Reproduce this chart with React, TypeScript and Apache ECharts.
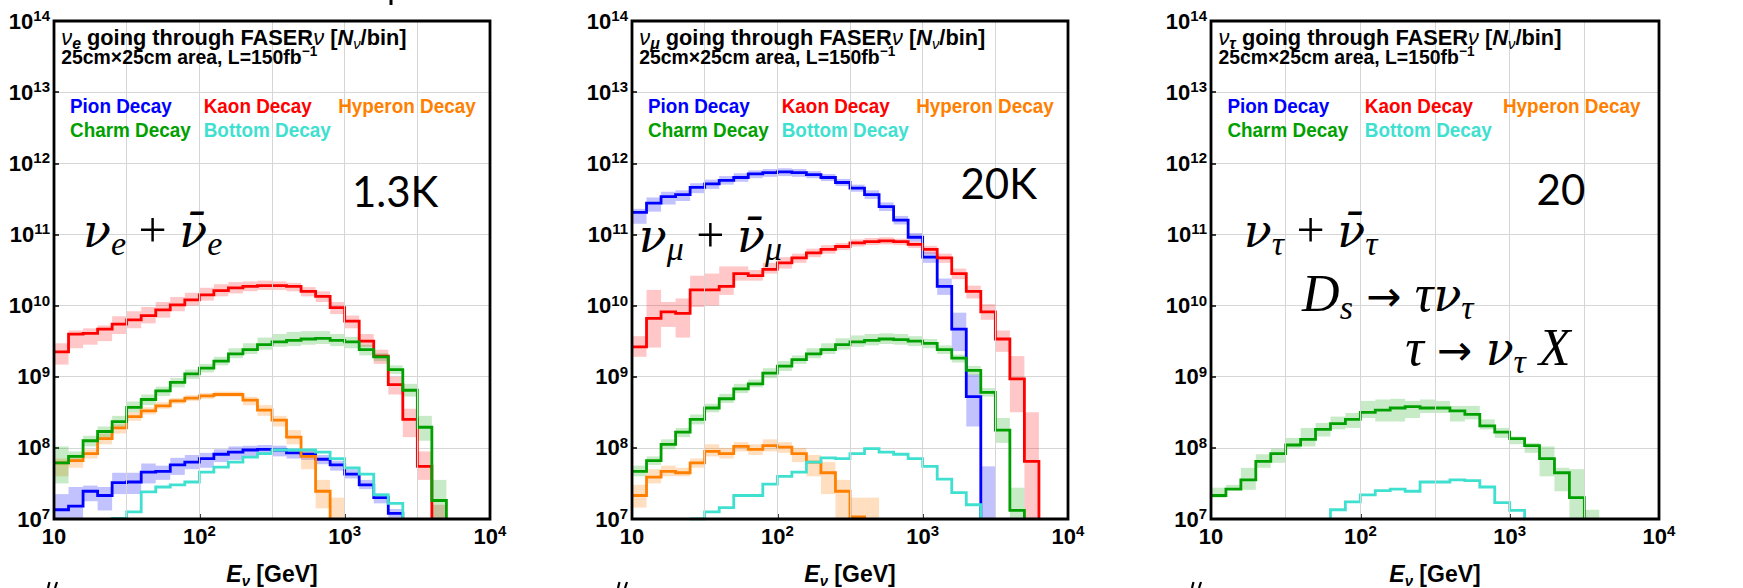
import React, { useEffect, useRef } from "react";
import * as echarts from "echarts";

// ---------------- axis / binning ----------------
const X_MIN = 10;
const X_MAX = 1e4;
const Y_MIN = 1e7;
const Y_MAX = 1e14;
const BINS_PER_DECADE = 10;
const N_BINS = 30;
const binEdges: number[] = Array.from({ length: N_BINS + 1 }, (_, i) => Math.pow(10, 1 + i / BINS_PER_DECADE));
const halfDecadeGrid = [1.5, 2, 2.5, 3, 3.5].map((e) => Math.pow(10, e));

// ---------------- data (log10 of N per bin, 30 log bins 10 GeV .. 10 TeV) ----------------
const N = null;
// Panel 1: nu_e
const pion1 = [7.13, 7.18, 7.39, 7.33, 7.51, 7.52, 7.66, 7.67, 7.76, 7.8, 7.85, 7.91, 7.94, 7.97, 7.98, 7.97, 7.93, 7.91, 7.84, 7.76, 7.63, 7.48, 7.3, 7.08, N, N, N, N, N, N];
const pion1Lo = [7.0, 7.0, 7.25, 7.12, 7.35, 7.35, 7.5, 7.55, 7.62, 7.7, 7.72, 7.8, 7.83, 7.88, 7.9, 7.88, 7.85, 7.83, 7.77, 7.68, 7.57, 7.42, 7.22, 7.02, N, N, N, N, N, N];
const pion1Hi = [7.35, 7.45, 7.47, 7.45, 7.65, 7.65, 7.78, 7.75, 7.86, 7.9, 7.93, 7.98, 8.02, 8.03, 8.04, 8.03, 7.99, 7.96, 7.9, 7.82, 7.7, 7.55, 7.36, 7.14, N, N, N, N, N, N];
const kaon1 = [9.35, 9.6, 9.61, 9.67, 9.74, 9.8, 9.86, 9.94, 10.01, 10.08, 10.15, 10.21, 10.25, 10.27, 10.28, 10.28, 10.27, 10.2, 10.13, 9.97, 9.78, 9.5, 9.29, 8.89, 8.4, 7.74, N, N, N, N];
const kaon1Lo = [9.17, 9.4, 9.45, 9.5, 9.6, 9.68, 9.75, 9.83, 9.92, 10.0, 10.07, 10.13, 10.17, 10.2, 10.22, 10.22, 10.2, 10.13, 10.05, 9.88, 9.68, 9.42, 9.18, 8.75, 8.15, 7.55, 7.0, N, N, N];
const kaon1Hi = [9.47, 9.65, 9.68, 9.72, 9.85, 9.92, 9.98, 10.05, 10.12, 10.18, 10.25, 10.3, 10.33, 10.34, 10.35, 10.34, 10.32, 10.26, 10.2, 10.05, 9.86, 9.6, 9.38, 9.0, 8.55, 7.95, 7.2, N, N, N];
const hyperon1 = [7.79, 7.82, 7.92, 8.13, 8.28, 8.44, 8.52, 8.59, 8.66, 8.7, 8.73, 8.75, 8.75, 8.67, 8.53, 8.39, 8.15, 7.88, 7.39, N, N, N, N, N, N, N, N, N, N, N];
const hyperon1Lo = [7.6, 7.72, 7.85, 8.05, 8.2, 8.38, 8.47, 8.55, 8.62, 8.66, 8.69, 8.72, 8.72, 8.6, 8.45, 8.3, 8.05, 7.7, 7.15, 7.0, N, N, N, N, N, N, N, N, N, N];
const hyperon1Hi = [7.85, 7.88, 7.98, 8.2, 8.33, 8.5, 8.57, 8.64, 8.7, 8.74, 8.77, 8.79, 8.79, 8.72, 8.6, 8.45, 8.25, 7.98, 7.55, 7.3, N, N, N, N, N, N, N, N, N, N];
const charm1 = [7.79, 7.88, 8.1, 8.23, 8.37, 8.57, 8.68, 8.8, 8.92, 9.04, 9.12, 9.22, 9.32, 9.38, 9.45, 9.49, 9.51, 9.53, 9.54, 9.51, 9.49, 9.38, 9.28, 9.1, 8.81, 8.29, 7.26, N, N, N];
const charm1Lo = [7.5, 7.8, 8.02, 8.12, 8.3, 8.5, 8.6, 8.73, 8.85, 8.97, 9.06, 9.16, 9.26, 9.32, 9.38, 9.42, 9.43, 9.45, 9.46, 9.43, 9.4, 9.3, 9.22, 9.04, 8.72, 8.1, 7.0, N, N, N];
const charm1Hi = [8.02, 7.95, 8.17, 8.3, 8.45, 8.65, 8.75, 8.86, 8.98, 9.1, 9.18, 9.28, 9.4, 9.47, 9.55, 9.6, 9.63, 9.64, 9.64, 9.6, 9.56, 9.45, 9.33, 9.16, 8.9, 8.45, 7.55, N, N, N];
const bottom1 = [N, N, N, N, 7.01, 7.1, 7.38, 7.45, 7.48, 7.52, 7.66, 7.73, 7.8, 7.87, 7.92, 7.97, 7.97, 7.97, 7.94, 7.85, 7.72, 7.63, 7.34, 7.22, N, N, N, N, N, N];

// Panel 2: nu_mu
const pion2 = [11.31, 11.44, 11.53, 11.56, 11.66, 11.71, 11.76, 11.8, 11.85, 11.87, 11.88, 11.87, 11.84, 11.8, 11.73, 11.65, 11.56, 11.39, 11.2, 10.96, 10.68, 10.27, 9.67, 8.72, N, N, N, N, N, N];
const pion2Lo = [11.15, 11.32, 11.42, 11.47, 11.58, 11.64, 11.7, 11.74, 11.79, 11.81, 11.82, 11.81, 11.79, 11.75, 11.68, 11.6, 11.5, 11.33, 11.14, 10.9, 10.6, 10.15, 9.36, 8.3, 7.0, N, N, N, N, N];
const pion2Hi = [11.36, 11.52, 11.6, 11.62, 11.72, 11.77, 11.82, 11.86, 11.9, 11.92, 11.93, 11.92, 11.89, 11.85, 11.78, 11.7, 11.62, 11.45, 11.26, 11.02, 10.75, 10.38, 9.9, 9.03, 7.74, N, N, N, N, N];
const kaon2 = [9.42, 9.82, 9.91, 9.89, 10.22, 10.22, 10.27, 10.45, 10.42, 10.51, 10.6, 10.67, 10.74, 10.79, 10.83, 10.88, 10.9, 10.91, 10.9, 10.86, 10.79, 10.67, 10.45, 10.2, 9.91, 9.53, 8.97, 7.81, N, N];
const kaon2Lo = [9.28, 9.41, 9.7, 9.55, 9.98, 10.0, 10.15, 10.35, 10.35, 10.45, 10.52, 10.6, 10.68, 10.73, 10.78, 10.83, 10.85, 10.86, 10.85, 10.81, 10.73, 10.6, 10.37, 10.1, 9.8, 9.35, 8.5, 7.0, N, N];
const kaon2Hi = [9.57, 10.22, 10.05, 10.1, 10.42, 10.45, 10.55, 10.55, 10.5, 10.6, 10.68, 10.73, 10.8, 10.85, 10.88, 10.93, 10.95, 10.96, 10.94, 10.9, 10.84, 10.73, 10.52, 10.28, 10.02, 9.65, 9.29, 8.5, N, N];
const hyperon2 = [7.33, 7.59, 7.67, 7.65, 7.79, 7.95, 7.92, 8.02, 7.98, 8.03, 8.01, 7.92, 7.8, 7.65, 7.39, 7.03, N, N, N, N, N, N, N, N, N, N, N, N, N, N];
const hyperon2Lo = [7.16, 7.5, 7.6, 7.6, 7.72, 7.88, 7.85, 7.95, 7.9, 7.95, 7.93, 7.8, 7.6, 7.35, 7.0, 7.0, 7.0, N, N, N, N, N, N, N, N, N, N, N, N, N];
const hyperon2Hi = [7.48, 7.7, 7.75, 7.72, 7.85, 8.05, 8.0, 8.08, 8.05, 8.12, 8.08, 8.0, 7.9, 7.8, 7.55, 7.3, 7.3, N, N, N, N, N, N, N, N, N, N, N, N, N];
const charm2 = [7.67, 7.82, 8.05, 8.22, 8.4, 8.56, 8.69, 8.83, 8.9, 9.05, 9.15, 9.24, 9.32, 9.38, 9.45, 9.49, 9.51, 9.53, 9.52, 9.5, 9.47, 9.38, 9.26, 9.09, 8.78, 8.25, 7.12, N, N, N];
const charm2Lo = [7.6, 7.76, 7.98, 8.15, 8.33, 8.5, 8.63, 8.77, 8.85, 8.98, 9.08, 9.18, 9.26, 9.32, 9.38, 9.42, 9.44, 9.46, 9.45, 9.43, 9.4, 9.32, 9.2, 9.02, 8.72, 8.07, 7.0, N, N, N];
const charm2Hi = [7.75, 7.88, 8.12, 8.28, 8.47, 8.62, 8.76, 8.9, 8.96, 9.12, 9.22, 9.3, 9.4, 9.47, 9.54, 9.58, 9.6, 9.61, 9.6, 9.57, 9.53, 9.44, 9.31, 9.15, 8.84, 8.42, 7.44, N, N, N];
const bottom2 = [N, N, N, N, 7.0, 7.1, 7.16, 7.33, 7.33, 7.49, 7.6, 7.66, 7.8, 7.86, 7.85, 7.92, 7.99, 7.94, 7.91, 7.85, 7.74, 7.56, 7.37, 7.2, N, N, N, N, N, N];

// Panel 3: nu_tau
const charm3 = [7.33, 7.42, 7.55, 7.81, 7.92, 8.04, 8.12, 8.26, 8.34, 8.4, 8.5, 8.53, 8.56, 8.58, 8.56, 8.56, 8.52, 8.47, 8.31, 8.22, 8.13, 8.03, 7.85, 7.65, 7.3, N, N, N, N, N];
const charm3Lo = [7.3, 7.41, 7.41, 7.72, 7.79, 7.99, 8.02, 8.16, 8.26, 8.28, 8.42, 8.37, 8.37, 8.42, 8.49, 8.49, 8.37, 8.4, 8.26, 8.14, 8.05, 7.93, 7.6, 7.39, 7.0, 7.0, N, N, N, N];
const charm3Hi = [7.44, 7.48, 7.72, 7.91, 7.99, 8.14, 8.28, 8.35, 8.44, 8.49, 8.66, 8.68, 8.69, 8.66, 8.68, 8.66, 8.59, 8.59, 8.4, 8.28, 8.16, 8.07, 8.02, 7.72, 7.7, 7.13, N, N, N, N];
const bottom3 = [N, N, N, N, N, N, N, N, 7.13, 7.24, 7.34, 7.4, 7.42, 7.39, 7.52, 7.52, 7.55, 7.54, 7.45, 7.23, 7.12, N, N, N, N, N, N, N, N, N];

// ---------------- labels ----------------
const speciesNames = ["Pion Decay", "Kaon Decay", "Hyperon Decay", "Charm Decay", "Bottom Decay"];
const flavorSub = ["e", "μ", "τ"];
const countLabels = ["1.3K", "20K", "20"];

// ---------------- styling ----------------
const LS = "'Liberation Sans', Arial, Helvetica, sans-serif";
const SERIF = "'Liberation Serif', 'Times New Roman', serif";
const DSERIF = "'DejaVu Serif', 'Liberation Serif', serif";
const DSANS = "'DejaVu Sans', 'Liberation Sans', sans-serif";
const LATO = "Lato, 'Open Sans', sans-serif";
// distance from the "central" baseline to the alphabetic baseline, in em
const CENTRAL: Record<string, number> = { [LS]: 0.347, [SERIF]: 0.338, [DSERIF]: 0.346, [DSANS]: 0.346, [LATO]: 0.387 };
const COLORS = ["#0000ff", "#ff0000", "#ff8000", "#00a000", "#40e0d0"];
const BAND = ["rgba(0,0,255,0.24)", "rgba(255,0,0,0.22)", "rgba(255,128,0,0.25)", "rgba(0,160,0,0.22)", null];

const GRIDS = [
  { left: 54, top: 21, width: 436, height: 498 },
  { left: 632, top: 21, width: 436, height: 498 },
  { left: 1211, top: 21, width: 448, height: 498 },
];

const PANEL_LINES: (number | null)[][][] = [
  [pion1, kaon1, hyperon1, charm1, bottom1],
  [pion2, kaon2, hyperon2, charm2, bottom2],
  [[], [], [], charm3, bottom3],
];
const PANEL_BANDS: any[][] = [
  [[pion1Lo, pion1Hi], [kaon1Lo, kaon1Hi], [hyperon1Lo, hyperon1Hi], [charm1Lo, charm1Hi], null],
  [[pion2Lo, pion2Hi], [kaon2Lo, kaon2Hi], [hyperon2Lo, hyperon2Hi], [charm2Lo, charm2Hi], null],
  [null, null, null, [charm3Lo, charm3Hi], null],
];

const p10 = (e: number) => Math.pow(10, e);

function stepPoints(vals: (number | null)[]) {
  const pts: number[][] = [];
  for (let i = 0; i < vals.length; i++) {
    const v = vals[i];
    if (v == null) continue;
    if (i > 0 && vals[i - 1] == null) pts.push([binEdges[i], Y_MIN]);
    pts.push([binEdges[i], p10(v)]);
    pts.push([binEdges[i + 1], p10(v)]);
    if (i < vals.length - 1 && vals[i + 1] == null) pts.push([binEdges[i + 1], Y_MIN]);
  }
  return pts;
}

function bandData(lo: (number | null)[], hi: (number | null)[]) {
  const out: number[][] = [];
  for (let i = 0; i < lo.length; i++) {
    const a = lo[i];
    const b = hi[i];
    if (a == null || b == null) continue;
    out.push([binEdges[i], binEdges[i + 1], p10(a), p10(b)]);
  }
  return out;
}

// pixel position from (log10 E, log10 N) inside a panel, for annotations
function px(g: any, lx: number, ly: number) {
  return [g.left + ((lx - 1) / 3) * g.width, g.top + ((14 - ly) / 7) * g.height];
}

// ---------- manual inline text layout (sub/superscripts) ----------
type Piece = { t: string; size: number; family: string; weight?: string; style?: string; dy?: number; fill?: string };
let measureCtx: CanvasRenderingContext2D | null = null;
function fontStr(p: Piece) {
  return `${p.style || "normal"} ${p.weight || "normal"} ${p.size}px ${p.family}`;
}
function measure(p: Piece) {
  if (!measureCtx) measureCtx = document.createElement("canvas").getContext("2d");
  if (!measureCtx) return p.t.length * p.size * 0.5;
  measureCtx.font = fontStr(p);
  return measureCtx.measureText(p.t).width;
}
function runText(x0: number, baseline: number, pieces: Piece[], align: "left" | "center" = "left") {
  const widths = pieces.map(measure);
  const total = widths.reduce((a, b) => a + b, 0);
  let x = align === "center" ? x0 - total / 2 : x0;
  return pieces.map((p, i) => {
    const el = {
      type: "text",
      silent: true,
      z: 20,
      x,
      y: baseline + (p.dy || 0) - (CENTRAL[p.family] || 0.34) * p.size,
      style: {
        text: p.t,
        fill: p.fill || "#000",
        fontFamily: p.family,
        fontSize: p.size,
        fontWeight: p.weight || "normal",
        fontStyle: p.style || "normal",
        align: "left",
        verticalAlign: "middle",
      },
    };
    x += widths[i];
    return el;
  });
}

const tickRich = {
  b: { fontFamily: LS, fontWeight: "bold", fontSize: 22, color: "#000", lineHeight: 26 },
  s: { fontFamily: LS, fontWeight: "bold", fontSize: 15, color: "#000", lineHeight: 15, verticalAlign: "top" },
};

function buildOption() {
  const series: any[] = [];
  const graphic: any[] = [];
  GRIDS.forEach((g, p) => {
    // half-decade vertical grid lines
    series.push({
      type: "line",
      xAxisIndex: p,
      yAxisIndex: p,
      data: [[X_MIN, Y_MIN]],
      symbol: "none",
      lineStyle: { opacity: 0 },
      silent: true,
      z: 0,
      markLine: {
        silent: true,
        symbol: "none",
        label: { show: false },
        lineStyle: { color: "#d6d6d6", width: 1, type: "solid" },
        data: halfDecadeGrid.map((v) => ({ xAxis: v })),
      },
    });
    // error bands
    PANEL_BANDS[p].forEach((b, s) => {
      if (!b) return;
      const color = BAND[s];
      series.push({
        type: "custom",
        xAxisIndex: p,
        yAxisIndex: p,
        silent: true,
        z: 1,
        data: bandData(b[0], b[1]),
        encode: { x: [0, 1], y: [2, 3] },
        renderItem: (params: any, api: any) => {
          const a = api.coord([api.value(0), api.value(3)]);
          const c = api.coord([api.value(1), api.value(2)]);
          const cs = params.coordSys;
          const top = Math.max(a[1], cs.y);
          const bot = Math.min(c[1], cs.y + cs.height);
          if (bot <= top) return null;
          return {
            type: "rect",
            shape: { x: a[0], y: top, width: c[0] - a[0], height: bot - top },
            style: { fill: color },
          };
        },
      });
    });
    // histogram lines
    PANEL_LINES[p].forEach((vals, s) => {
      if (!vals.length) return;
      series.push({
        type: "line",
        xAxisIndex: p,
        yAxisIndex: p,
        data: stepPoints(vals),
        symbol: "none",
        showSymbol: false,
        silent: true,
        clip: true,
        z: 3,
        lineStyle: { color: COLORS[s], width: 2.8, join: "miter", cap: "butt" },
      });
    });

    // frame
    graphic.push({
      type: "rect",
      silent: true,
      z: 50,
      shape: { x: g.left, y: g.top, width: g.width, height: g.height },
      style: { fill: "none", stroke: "#000", lineWidth: 2.8 },
    });

    const fl = flavorSub[p];
    const [tx] = px(g, 1.05, 14);
    // title line 1
    graphic.push({
      type: "group",
      x: tx,
      y: 0,
      scaleX: 0.99,
      children: runText(0, 45, [
        { t: "ν", size: 22, family: LS, style: "italic" },
        { t: fl, size: 16, family: LS, style: "italic", weight: "bold", dy: 4 },
        { t: " going through FASER", size: 22, family: LS, weight: "bold" },
        { t: "ν", size: 22, family: LS, style: "italic" },
        { t: " [", size: 22, family: LS, weight: "bold" },
        { t: "N", size: 22, family: LS, weight: "bold", style: "italic" },
        { t: "ν", size: 15, family: LS, style: "italic", dy: 4 },
        { t: "/bin]", size: 22, family: LS, weight: "bold" },
      ]),
    });
    // title line 2
    graphic.push({
      type: "group",
      x: tx,
      y: 0,
      scaleX: 0.97,
      children: runText(0, 64, [
        { t: "25cm×25cm area, L=150fb", size: 20, family: LS, weight: "bold" },
        { t: "−1", size: 14, family: LS, weight: "bold", dy: -8 },
      ]),
    });
    // legend-like coloured labels
    const legendCols = [1.11, 2.03, 2.955, 1.11, 2.03];
    const legendBase = [112.7, 112.7, 112.7, 137.3, 137.3];
    speciesNames.forEach((name, s) => {
      const [lx] = px(g, legendCols[s], 14);
      graphic.push({
        type: "text",
        silent: true,
        z: 20,
        x: lx,
        y: legendBase[s] - CENTRAL[LS] * 21,
        scaleX: 0.9,
        style: {
          text: name,
          fill: COLORS[s],
          fontFamily: LS,
          fontWeight: "bold",
          fontSize: 21,
          align: "left",
          verticalAlign: "middle",
        },
      });
    });
    // neutrino count
    const countPos = [
      [3.05, 11.38],
      [3.26, 11.5],
      [3.18, 11.41],
    ][p];
    const [cx, cy] = px(g, countPos[0], countPos[1]);
    graphic.push({
      type: "text",
      silent: true,
      z: 20,
      x: cx,
      y: cy - CENTRAL[LATO] * 42,
      style: {
        text: countLabels[p],
        fill: "#000",
        fontFamily: LATO,
        fontSize: 42,
        align: "left",
        verticalAlign: "middle",
      },
    });
    // x axis title
    graphic.push(
      ...runText(
        g.left + g.width / 2,
        581.5,
        [
          { t: "E", size: 23, family: LS, style: "italic", weight: "bold" },
          { t: "ν", size: 15, family: LS, style: "italic", weight: "bold", dy: 4 },
          { t: " [GeV]", size: 23, family: LS, weight: "bold" },
        ],
        "center"
      )
    );
  });

  // tiny marks of neighbouring figure content clipped at the page edges
  [48, 618, 1192].forEach((x) => {
    graphic.push({
      type: "polyline",
      silent: true,
      z: 20,
      shape: { points: [[x, 588], [x + 1.5, 582]] },
      style: { stroke: "#000", lineWidth: 2.2, fill: "none" },
    });
    graphic.push({
      type: "polyline",
      silent: true,
      z: 20,
      shape: { points: [[x + 7, 588], [x + 9, 582]] },
      style: { stroke: "#000", lineWidth: 2.2, fill: "none" },
    });
  });
  graphic.push({
    type: "polyline",
    silent: true,
    z: 20,
    shape: { points: [[391, 0], [391, 5]] },
    style: { stroke: "#000", lineWidth: 3, fill: "none" },
  });

  // math annotations
  const nu = (t: string): Piece => ({ t, size: 46, family: DSERIF, style: "italic" });
  const it = (t: string): Piece => ({ t, size: 52, family: SERIF, style: "italic" });
  const sub = (t: string): Piece => ({ t, size: 34, family: SERIF, style: "italic", dy: 8 });
  const plus: Piece = { t: " + ", size: 50, family: SERIF };
  const arrow: Piece = { t: " → ", size: 42, family: DSANS };
  const maths = [
    { p: 0, lx: 1.2, ly: 10.83, pieces: [nu("ν"), sub("e"), plus, nu("ν\u0304"), sub("e")] },
    { p: 1, lx: 1.046, ly: 10.76, pieces: [nu("ν"), sub("μ"), plus, nu("ν\u0304"), sub("μ")] },
    { p: 2, lx: 1.22, ly: 10.83, pieces: [nu("ν"), sub("τ"), plus, nu("ν\u0304"), sub("τ")] },
    { p: 2, lx: 1.61, ly: 9.92, pieces: [it("D"), sub("s"), arrow, it("τ"), nu("ν"), sub("τ")] },
    { p: 2, lx: 2.3, ly: 9.17, pieces: [it("τ"), arrow, nu("ν"), sub("τ"), it(" X")] },
  ];
  maths.forEach((mt) => {
    const [x, yb] = px(GRIDS[mt.p], mt.lx, mt.ly);
    graphic.push(...runText(x, yb, mt.pieces));
  });

  const xAxis = GRIDS.map((g, p) => ({
    type: "log",
    logBase: 10,
    gridIndex: p,
    min: X_MIN,
    max: X_MAX,
    axisLine: { show: false },
    axisTick: { show: true, inside: true, length: 5, lineStyle: { color: "#000", width: 1.5 } },
    splitLine: { show: false },
    axisLabel: {
      margin: 4,
      formatter: (v: number) => {
        const e = Math.round(Math.log10(v));
        return e === 1 ? "{b|10}" : `{b|10}{s|${e}}`;
      },
      rich: tickRich,
    },
  }));
  const yAxis = GRIDS.map((g, p) => ({
    type: "log",
    logBase: 10,
    gridIndex: p,
    min: Y_MIN,
    max: Y_MAX,
    axisLine: { show: false },
    axisTick: { show: true, inside: true, length: 5, lineStyle: { color: "#000", width: 1.5 } },
    splitLine: { show: true, lineStyle: { color: "#d6d6d6", width: 1 } },
    axisLabel: {
      margin: 4,
      formatter: (v: number) => `{b|10}{s|${Math.round(Math.log10(v))}}`,
      rich: tickRich,
    },
  }));

  return {
    animation: false,
    backgroundColor: "#ffffff",
    grid: GRIDS.map((g) => ({ ...g, containLabel: false, show: false })),
    xAxis,
    yAxis,
    series,
    graphic,
  };
}

export default function App() {
  const ref = useRef<HTMLDivElement>(null);
  useEffect(() => {
    if (!ref.current) return;
    const chart = echarts.init(ref.current, undefined, { renderer: "svg" });
    chart.setOption(buildOption() as any);
    return () => chart.dispose();
  }, []);
  return (
    <div
      ref={ref}
      style={{ position: "absolute", left: 0, top: 0, width: 1743, height: 588, background: "#fff" }}
    />
  );
}
